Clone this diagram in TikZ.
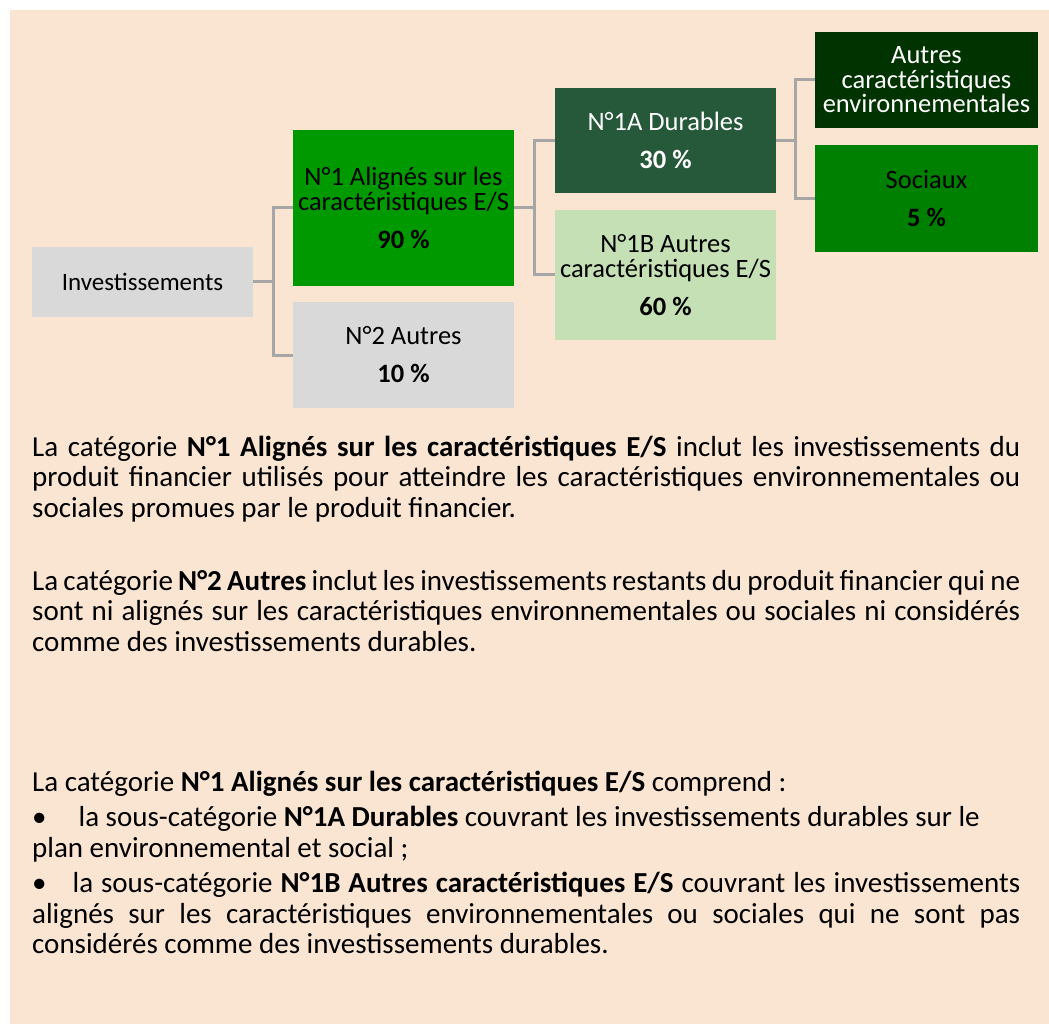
\documentclass[tikz,border=0pt]{standalone}
\usepackage{fontspec}
\setmainfont{Carlito}[WordSpace={1,1,1.6}]
\setlength{\parindent}{0pt}
\lineskiplimit=-20pt
\tolerance=10000
\hyphenpenalty=10000
\definecolor{peach}{RGB}{250,229,211}
\definecolor{boxgray}{RGB}{217,217,217}
\definecolor{alignedgreen}{RGB}{0,153,0}
\definecolor{durablegreen}{RGB}{38,88,58}
\definecolor{envgreen}{RGB}{0,51,0}
\definecolor{socialgreen}{RGB}{0,128,0}
\definecolor{othergreen}{RGB}{197,224,180}
\definecolor{linkgray}{RGB}{166,166,166}
\begin{document}
\begin{tikzpicture}[x=1pt, y=-1pt,
    box/.style={rectangle, inner sep=0pt, align=center, minimum width=221pt,
      font=\fontsize{26.5}{24.5}\selectfont},
    link/.style={draw=linkgray, line width=3pt},
    para/.style={anchor=base west, inner sep=0pt, text width=988pt, align=justify,
      font=\fontsize{29}{30.5}\selectfont}]
  \useasboundingbox (0,0) rectangle (1049,1024);
  \fill[peach] (10,10) rectangle (1049,1024);

  \node[box, fill=boxgray, minimum height=70pt, font=\fontsize{25}{24.5}\selectfont] (inv) at (142.5,282) {Investissements};
  \node[box, fill=alignedgreen, minimum height=156pt] (n1) at (403.5,208) {N°1 Alignés sur les\\caractéristiques E/S\\[13.5pt]\textbf{90 \%}};
  \node[box, fill=boxgray, minimum height=106pt] (n2) at (403.5,355) {N°2 Autres\\[13.5pt]\textbf{10 \%}};
  \node[box, fill=durablegreen, text=white, minimum height=105pt] (n1a) at (665.5,140.5) {N°1A Durables\\[13.5pt]\textbf{30 \%}};
  \node[box, fill=othergreen, minimum height=130pt] (n1b) at (665.5,275) {N°1B Autres\\caractéristiques E/S\\[13.5pt]\textbf{60 \%}};
  \node[box, fill=envgreen, text=white, minimum width=223pt, minimum height=96pt] (env) at (926.5,80) {Autres\\caractéristiques\\environnementales};
  \node[box, fill=socialgreen, minimum width=223pt, minimum height=107pt] (soc) at (926.5,198.5) {Sociaux\\[13.5pt]\textbf{5 \%}};

  \draw[link] (inv.east) -- ++(20,0) |- (n1.west);
  \draw[link] (inv.east) -- ++(20,0) |- (n2.west);
  \draw[link] (n1.east) -- ++(20,0) |- (n1a.west);
  \draw[link] (n1.east) -- ++(20,0) |- (n1b.west);
  \draw[link] (n1a.east) -- ++(19,0) |- (env.west);
  \draw[link] (n1a.east) -- ++(19,0) |- (soc.west);

  \node[para] (p1) at (32,456) {La catégorie \textbf{N°1 Alignés sur les caractéristiques E/S} inclut les investissements du\linebreak produit financier utilisés pour atteindre les caractéristiques environnementales ou\linebreak sociales promues par le produit financier.};
  \node[para] (p2) at (32,590) {La catégorie \textbf{N°2 Autres} inclut les investissements restants du produit financier qui ne\linebreak sont ni alignés sur les caractéristiques environnementales ou sociales ni considérés\linebreak comme des investissements durables.};
  \node[para] (p3) at (32,791) {La catégorie \textbf{N°1 Alignés sur les caractéristiques E/S} comprend :\par\vspace{5pt}•\hspace{32pt}la sous-catégorie \textbf{N°1A Durables} couvrant les investissements durables sur le\\plan environnemental et social ;\par\vspace{5pt}•\hspace{26pt}la sous-catégorie \textbf{N°1B Autres caractéristiques E/S} couvrant les investissements\linebreak alignés sur les caractéristiques environnementales ou sociales qui ne sont pas\linebreak considérés comme des investissements durables.};
\end{tikzpicture}
\end{document}
